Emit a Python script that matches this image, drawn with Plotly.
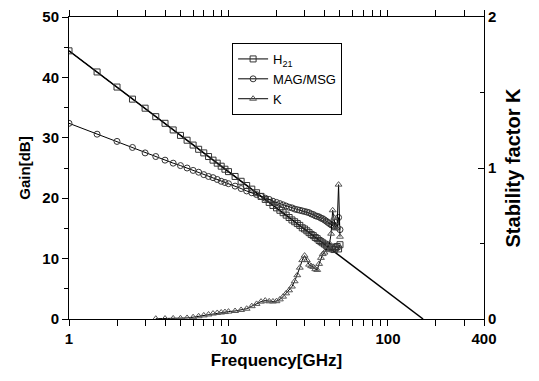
import plotly.graph_objects as go

# ---------------- data ----------------
freq = [1, 1.5, 2, 2.5, 3, 3.5, 4, 4.5, 5, 5.5, 6, 6.5, 7, 7.5, 8, 8.5, 9, 9.5, 10,
        11, 12, 13, 14, 15, 16, 17, 18, 19, 20, 21, 22, 23, 24, 25, 26, 27, 28, 29, 30,
        31, 32, 33, 34, 35, 36, 37, 38, 39, 40, 41, 42, 43, 44, 45, 46, 47, 48, 49, 50]

h21 = [44.4, 40.9, 38.4, 36.4, 34.9, 33.5, 32.4, 31.3, 30.4, 29.6, 28.8, 28.1, 27.5, 26.9,
       26.3, 25.8, 25.3, 24.8, 24.4,
       23.6, 22.8, 22.1, 21.5, 20.9, 20.3, 19.8, 19.3, 18.8, 18.4, 18.0, 17.6, 17.2, 16.8,
       16.4, 16.1, 15.8, 15.5, 15.1, 14.9, 14.6, 14.3, 14.0, 13.8, 13.5, 13.3, 13.0, 12.8,
       12.6, 12.4, 12.2, 12.0, 11.8, 11.9, 11.6, 11.5, 11.8, 12.0, 11.6, 12.3]

mag_msg = [32.4, 30.6, 29.4, 28.4, 27.5, 26.9, 26.3, 25.8, 25.4, 25.0, 24.6, 24.3, 23.9, 23.6,
           23.4, 23.1, 22.8, 22.6, 22.4,
           22.0, 21.6, 21.2, 20.9, 20.6, 20.3, 20.0, 19.8, 19.5, 19.3, 19.1, 18.9, 18.7, 18.5,
           18.4, 18.2, 18.1, 18.0, 17.9, 17.8, 17.7, 17.6, 17.4, 17.3, 17.1, 17.0, 16.9, 16.7,
           16.6, 16.4, 16.2, 16.0, 15.8, 15.6, 15.5, 15.3, 16.0, 15.2, 16.8, 14.8]

k_factor = [None, None, None, None, None, 0.002, 0.003, 0.004, 0.005, 0.007, 0.012, 0.018,
            0.024, 0.030, 0.036, 0.040, 0.043, 0.046, 0.049,
            0.053, 0.060, 0.068, 0.085, 0.100, 0.115, 0.122, 0.117, 0.116, 0.118, 0.130,
            0.148, 0.170, 0.190, 0.215, 0.250, 0.290, 0.340, 0.390, 0.420, 0.390, 0.360,
            0.350, 0.345, 0.330, 0.325, 0.365, 0.405, 0.430, 0.440, 0.456, 0.480, 0.500,
            0.565, 0.720, 0.670, 0.600, 0.615, 0.890, 0.545]

# extrapolated -20 dB/dec line for H21
fit_freq = [1, 166]
fit_h21 = [44.4, 0]

x_tickvals = [1, 10, 100, 400]
x_ticktext = ["1", "10", "100", "400"]
x_minor = [2, 3, 4, 5, 6, 7, 8, 9, 20, 30, 40, 50, 60, 70, 80, 90, 200, 300]

# ---------------- figure ----------------
FONT = "Arial, Liberation Sans, sans-serif"
mcol = "#333333"

fig = go.Figure()

fig.add_trace(go.Scatter(
    x=fit_freq, y=fit_h21, mode="lines", line=dict(color="black", width=1.5),
    showlegend=False, hoverinfo="skip"))

fig.add_trace(go.Scatter(
    x=freq, y=h21, mode="lines+markers", name="H<sub>21</sub>",
    line=dict(color="black", width=1),
    marker=dict(symbol="square-open", size=6, color=mcol, line=dict(width=1))))

fig.add_trace(go.Scatter(
    x=freq, y=mag_msg, mode="lines+markers", name="MAG/MSG",
    line=dict(color="black", width=1),
    marker=dict(symbol="circle-open", size=6, color=mcol, line=dict(width=1))))

fig.add_trace(go.Scatter(
    x=freq, y=k_factor, mode="lines+markers", name="K", yaxis="y2",
    line=dict(color="black", width=1),
    marker=dict(symbol="triangle-up-open", size=6, color="#555555", line=dict(width=1))))

tickfont = dict(family=FONT, size=15, color="black", weight="bold")

fig.update_layout(
    width=539, height=381,
    margin=dict(l=69, r=55, t=17, b=62),
    paper_bgcolor="white", plot_bgcolor="white",
    font=dict(family=FONT, color="black"),
    xaxis=dict(
        type="log", range=[0, 2.60206], automargin=False,
        tickvals=x_tickvals, ticktext=x_ticktext,
        ticks="outside", ticklen=6, tickwidth=1, tickcolor="black",
        minor=dict(tickvals=x_minor, ticks="outside", ticklen=4, tickcolor="black"),
        showline=True, linecolor="black", linewidth=1, mirror="allticks",
        showgrid=False, zeroline=False,
        tickfont=tickfont,
        title=dict(text="Frequency[GHz]", font=dict(family=FONT, size=17, weight="bold"),
                   standoff=8),
    ),
    yaxis=dict(
        range=[0, 50], tickvals=[0, 10, 20, 30, 40, 50], automargin=False,
        ticks="outside", ticklen=6, tickcolor="black",
        minor=dict(dtick=5, ticks="outside", ticklen=4, tickcolor="black"),
        showline=True, linecolor="black", linewidth=1,
        showgrid=False, zeroline=False,
        tickfont=tickfont,
        title=dict(text="Gain[dB]", font=dict(family=FONT, size=15, weight="bold"),
                   standoff=8),
    ),
    yaxis2=dict(
        range=[0, 2], tickvals=[0, 1, 2], overlaying="y", side="right", automargin=False,
        ticks="inside", ticklen=6, tickcolor="black",
        minor=dict(dtick=0.5, ticks="inside", ticklen=4, tickcolor="black"),
        showline=True, linecolor="black", linewidth=1,
        showgrid=False, zeroline=False,
        tickfont=tickfont,
        title=dict(text="Stability factor K", font=dict(family=FONT, size=20, weight="bold"),
                   standoff=10),
    ),
    legend=dict(
        x=0.393, y=0.914, xanchor="left", yanchor="top",
        bordercolor="black", borderwidth=1, bgcolor="white",
        font=dict(family=FONT, size=13, color="black"),
        tracegroupgap=0, itemwidth=30,
    ),
    showlegend=True,
)

fig.write_html("out.html", config={"displayModeBar": False},
               post_script="document.body.style.margin='0';")
